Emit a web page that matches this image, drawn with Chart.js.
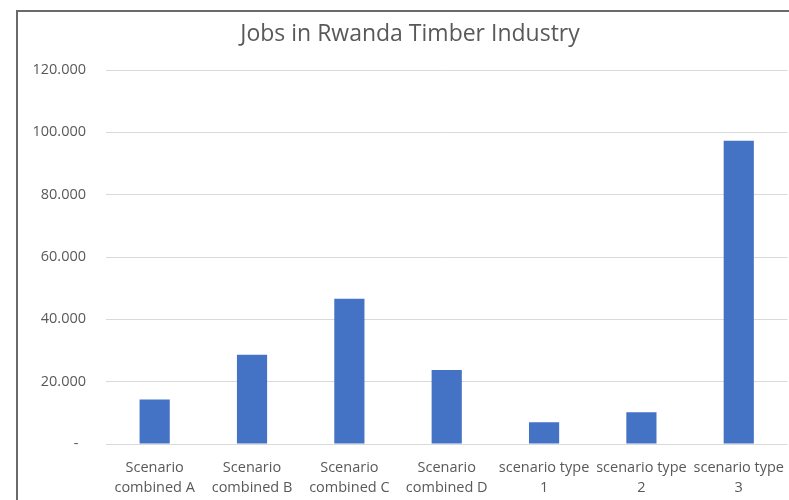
<!DOCTYPE html>
<html>
<head>
<meta charset="utf-8">
<title>Jobs in Rwanda Timber Industry</title>
<script src="https://cdn.jsdelivr.net/npm/chart.js@4/dist/chart.umd.min.js"></script>
<style>
  html, body { margin: 0; padding: 0; background: #ffffff; overflow: hidden; }
  #wrap { position: relative; width: 789px; height: 500px; overflow: hidden; }
  #chart { position: absolute; left: 0; top: 0; }
  #frame {
    position: absolute; left: 16px; top: 10px; width: 900px; height: 600px;
    border-top: 2px solid #6a6a6a; border-left: 2px solid #6a6a6a;
    pointer-events: none; box-sizing: border-box;
  }
</style>
</head>
<body>
<div id="wrap">
  <canvas id="chart" width="790" height="500"></canvas>
  <div id="frame"></div>
</div>
<script>
// Scenario names (two lines each) and job counts
const categories = [
  ['Scenario', 'combined A'],
  ['Scenario', 'combined B'],
  ['Scenario', 'combined C'],
  ['Scenario', 'combined D'],
  ['scenario type', '1'],
  ['scenario type', '2'],
  ['scenario type', '3']
];
const jobs = [14300, 28650, 46600, 23750, 6950, 10150, 97300];
const yTicks = [0, 20000, 40000, 60000, 80000, 100000, 120000];

// Thousands separated by dots, zero shown as a dash
function formatJobs(v) {
  if (v === 0) return '-  ';
  return String(Math.round(v)).replace(/\B(?=(\d{3})+(?!\d))/g, '.');
}

const textColor = '#595959';
const fontFamily = '"Open Sans", "Noto Sans", sans-serif';

new Chart(document.getElementById('chart'), {
  type: 'bar',
  data: {
    labels: categories,
    datasets: [{
      label: 'Jobs',
      data: jobs,
      backgroundColor: '#4472C4',
      borderWidth: 0,
      barPercentage: 0.31,
      categoryPercentage: 1.0
    }]
  },
  options: {
    responsive: false,
    animation: false,
    layout: { padding: { top: 6, left: 30, right: 0, bottom: 0 } },
    plugins: {
      legend: { display: false },
      tooltip: { enabled: false },
      title: {
        display: true,
        text: 'Jobs in Rwanda Timber Industry',
        color: textColor,
        font: { family: fontFamily, size: 23, weight: 'normal', lineHeight: 1.2 },
        padding: { top: 15, bottom: 21.4 }
      }
    },
    scales: {
      x: {
        grid: { display: false },
        border: { display: false },
        ticks: {
          color: textColor,
          font: { family: fontFamily, size: 14.5, lineHeight: 1.38 },
          padding: 6,
          maxRotation: 0,
          autoSkip: false
        },
        afterFit: (scale) => { scale.height = 56; }
      },
      y: {
        min: 0,
        max: 120000,
        afterBuildTicks: (scale) => { scale.ticks = yTicks.map(v => ({ value: v })); },
        grid: { color: '#d9d9d9', lineWidth: 1, drawTicks: false },
        border: { display: false },
        ticks: {
          color: textColor,
          font: { family: fontFamily, size: 14.5 },
          padding: 20,
          callback: (v) => formatJobs(v)
        },
        afterFit: (scale) => { scale.width = 76; }
      }
    }
  }
});
</script>
</body>
</html>
